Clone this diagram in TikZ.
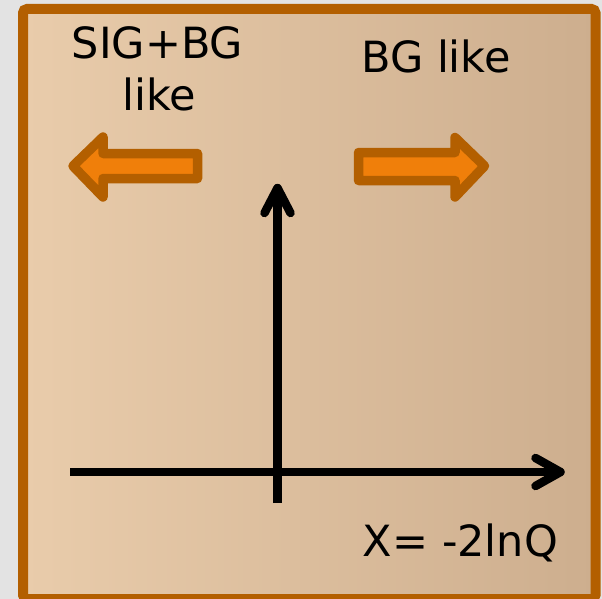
\documentclass[tikz,border=0pt]{standalone}
\usepackage{fontspec}
\setmainfont{DejaVu Sans}
\definecolor{bggray}{HTML}{E3E3E3}
\definecolor{boxbrown}{HTML}{B35F00}
\definecolor{fillL}{HTML}{E9CCAB}
\definecolor{fillR}{HTML}{CDAE8E}
\definecolor{arrorange}{HTML}{F07F0A}
\tikzset{
  boxline/.style={draw=boxbrown, line width=10pt, rounded corners=4pt, left color=fillL, right color=fillR},
  blockarrow/.style={draw=boxbrown, fill=arrorange, line width=9.5pt, line join=round},
  axisline/.style={draw=black, line width=8.5pt},
  axishead/.style={draw=black, line width=8.5pt, line cap=round, line join=round},
  lbl/.style={font=\fontsize{43}{51}\selectfont, text=black, inner sep=0pt, anchor=base}
}
\begin{document}
\begin{tikzpicture}[x=1pt,y=-1pt]
\useasboundingbox (0,0) rectangle (602,599);
\fill[bggray] (0,0) rectangle (602,599);
\begin{scope}
\clip (0,0) rectangle (602,599);
\path[boxline] (23,9) rectangle (595.5,599);
\end{scope}
% block arrows
\path[blockarrow] (73,166) -- (103,137) -- (103,153.5) -- (197.5,153.5) -- (197.5,178.5) -- (103,178.5) -- (103,197) -- cycle;
\path[blockarrow] (358.5,152.5) -- (455,152.5) -- (455,137.5) -- (484.5,166) -- (455,197) -- (455,180.5) -- (358.5,180.5) -- cycle;
% axes
\coordinate (vbot) at (277.5,503);
\coordinate (vtip) at (277.5,188);
\coordinate (hleft) at (70,472);
\coordinate (htip) at (560.5,472);
\draw[axisline] (vbot) -- (vtip);
\draw[axishead] ([shift={(-13,25)}]vtip) -- (vtip) -- ([shift={(13,25)}]vtip);
\draw[axisline] (hleft) -- (htip);
\draw[axishead] ([shift={(-25,-14)}]htip) -- (htip) -- ([shift={(-25,14)}]htip);
% labels
\node[lbl] (sig) at (157.5,59) {SIG+BG};
\node[lbl] (like) at (159,111) {like};
\node[lbl] (bg) at (436,73) {BG like};
\node[lbl] (xlab) at (460.5,556) {X= -2lnQ};
\end{tikzpicture}
\end{document}
